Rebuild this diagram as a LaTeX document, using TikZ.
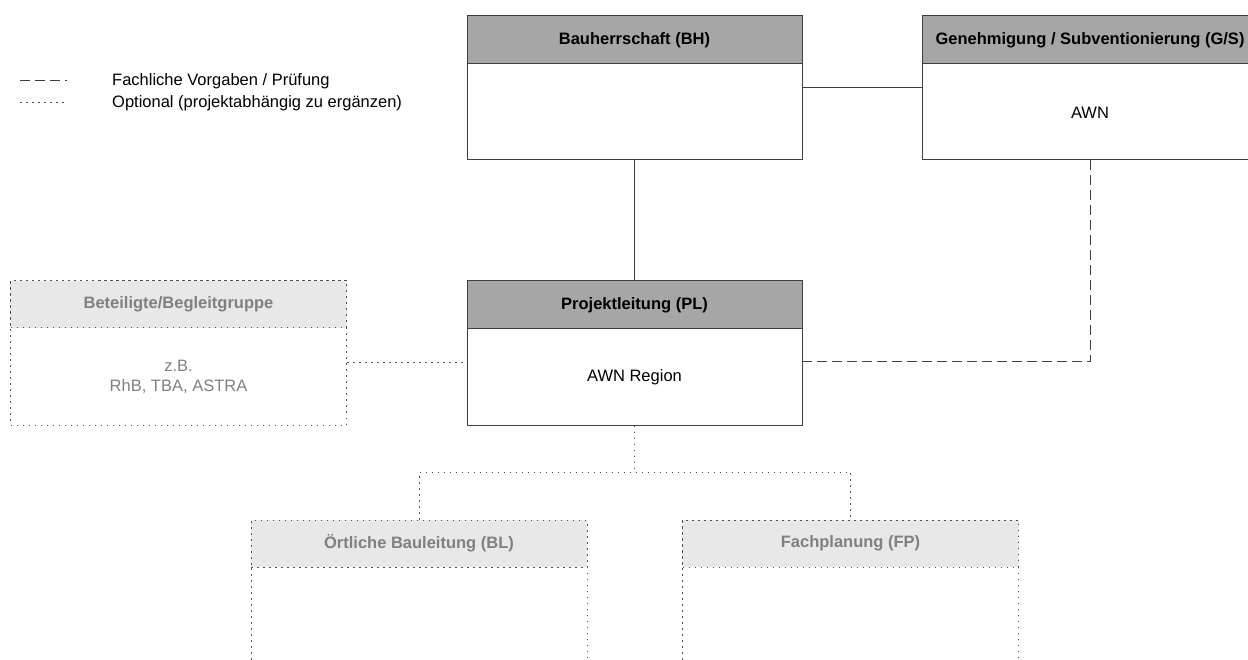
\documentclass[tikz,border=0pt]{standalone}
\usepackage{fontspec}
\setmainfont{Liberation Sans}
\usetikzlibrary{positioning}
\definecolor{headdark}{HTML}{A6A6A6}
\definecolor{headlight}{HTML}{E8E8E8}
\definecolor{framedark}{HTML}{404040}
\definecolor{dotgray}{HTML}{505050}
\definecolor{textgray}{HTML}{808080}
\begin{document}
\begin{tikzpicture}[x=1pt,y=-1pt]
		\tikzstyle{every node}+=[inner sep=0pt, font=\fontsize{16.5}{20}\selectfont]
		\tikzstyle{dots}=[dash pattern=on 1.5pt off 4.5pt]
		\tikzstyle{box}=[draw=framedark, line width=1pt, fill=white, minimum width=335, minimum height=144]
		\tikzstyle{optbox}=[draw=dotgray, line width=1pt, dots, minimum width=336, minimum height=144]
		\tikzstyle{head}=[draw=framedark, line width=1pt, fill=headdark, minimum width=335, minimum height=48, font=\fontsize{16.5}{20}\selectfont\bfseries]
		\tikzstyle{opthead}=[draw=dotgray, line width=1pt, dots, fill=headlight, text=textgray, minimum width=336, minimum height=47, font=\fontsize{16.5}{20}\selectfont\bfseries]
		\tikzstyle{link}=[line width=1pt, framedark]
		\tikzstyle{fachlich}=[link, dash pattern=on 10pt off 5pt]
		\tikzstyle{optional}=[link, dotgray, dots]
		\useasboundingbox (0,0) rectangle (1248,660);
		% legend
		\coordinate (dashA) at (20,81);
		\coordinate (dashB) at (67,81);
		\coordinate (dotA) at (20,103);
		\coordinate (dotB) at (64,103);
		\draw [fachlich] (dashA) -- (dashB);
		\draw [optional] (dotA) -- (dotB);
		\node [anchor=west] (legdash) at (112,81) {Fachliche Vorgaben / Prüfung};
		\node [anchor=west] (legdot) at (112,103) {Optional (projektabhängig zu ergänzen)};
		% boxes
		\node [box] (bh) at (634.5,88) {};
		\node [head, below=0pt of bh.north] (bhh) {Bauherrschaft (BH)};
		\node [box] (gs) at (1090,88) {};
		\node [head, below=0pt of gs.north] (gsh) {Genehmigung / Subventionierung (G/S)};
		\node (gst) at (gs.center |- 0,112.5) {AWN};
		\node [box] (pl) at (634.5,353) {};
		\node [head, below=0pt of pl.north] (plh) {Projektleitung (PL)};
		\node (plt) at (pl.center |- 0,377) {AWN Region};
		\node [optbox] (bg) at (178.5,353) {};
		\node [opthead, below=0pt of bg.north] (bgh) {Beteiligte/Begleitgruppe};
		\node [align=center, text=textgray] (bgt) at (bg.center |- 0,377) {z.B.\\RhB, TBA, ASTRA};
		\node [optbox] (bl) at (419,592) {};
		\node [opthead, below=0pt of bl.north] (blh) {Örtliche Bauleitung (BL)};
		\node [optbox] (fp) at (850.5,592) {};
		\node [opthead, below=0pt of fp.north] (fph) {Fachplanung (FP)};
		% connectors
		\draw [link] (bh.east) -- (gs.west);
		\draw [link] (bh.south) -- (pl.north);
		\draw [fachlich] (gs.south) -- (gs.south |- 0,362) -- (pl.east |- 0,362);
		\draw [optional] (bg.east |- 0,363) -- (pl.west |- 0,363);
		\coordinate (fork) at (634.5,472);
		\draw [optional] (pl.south) -- (fork);
		\draw [optional] (bl.north) -- (bl.north |- fork) -- (fp.north |- fork) -- (fp.north);
\end{tikzpicture}
\end{document}
